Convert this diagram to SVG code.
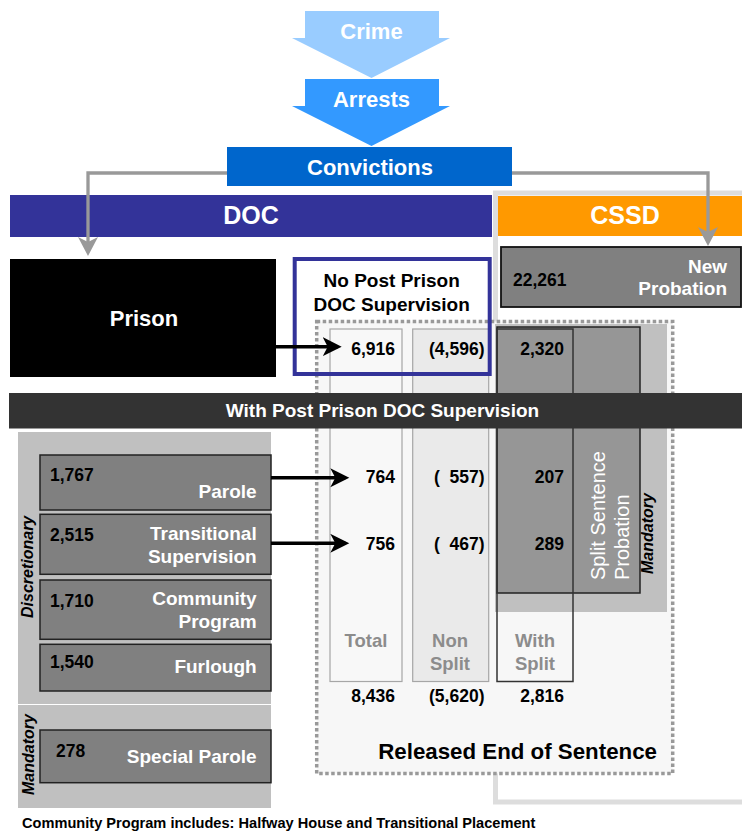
<svg xmlns="http://www.w3.org/2000/svg" width="742" height="831" viewBox="0 0 742 831">
<style>
text{font-family:"Liberation Sans",Arial,Helvetica,sans-serif;font-weight:bold}
.w{fill:#fff}
.k{fill:#000}
.g{fill:#8c8c8c}
.num{font-size:17.5px}
.lbl{font-size:19px}
.hd{font-size:22px}
.big{font-size:25px}
.mid{text-anchor:middle}
.end{text-anchor:end}
.box{fill:#808080;stroke:#222;stroke-width:1.5}
.rot{font-style:italic;font-size:16px;fill:#000}
.conn-g{fill:none;stroke:#999;stroke-width:3.3}
.conn-k{fill:none;stroke:#000;stroke-width:3.5}
</style>
<defs>
<marker id="ah-gray" markerUnits="userSpaceOnUse" markerWidth="20" markerHeight="20" refX="15" refY="10" orient="auto">
<path d="M0,0 L19,10 L0,20 L5,10 Z" fill="#999"/>
</marker>
<marker id="ah-black" markerUnits="userSpaceOnUse" markerWidth="20" markerHeight="20" refX="15" refY="9.5" orient="auto">
<path d="M0,0 L19,9.5 L0,19 L5,9.5 Z" fill="#000"/>
</marker>
</defs>

<!-- CSSD frame -->
<g id="cssd-frame">
<rect x="495.5" y="193" width="300" height="609" fill="none" stroke="#ddd" stroke-width="5"/>
</g>

<g id="cssd">
<rect x="498" y="196" width="244" height="40" fill="#ff9900"/>
<text class="w big mid" x="625" y="224.3">CSSD</text>
</g>
<g id="doc">
<rect x="10" y="195" width="482" height="42" fill="#333399"/>
<text class="w big mid" x="251" y="224.3">DOC</text>
</g>

<g id="crime">
<polygon points="305,11 439,11 439,38 450,38 371.5,78 292,38 305,38" fill="#99ccff"/>
<text class="w hd mid" x="371.5" y="39">Crime</text>
</g>
<g id="arrests">
<polygon points="305,79 439,79 439,106 450,106 371.5,146 292,106 305,106" fill="#3399ff"/>
<text class="w hd mid" x="371.5" y="106.5">Arrests</text>
</g>
<g id="convictions">
<rect x="227" y="147" width="285" height="39" fill="#0066cc"/>
<text class="w hd mid" x="370" y="175">Convictions</text>
</g>

<g id="new-probation">
<rect x="501" y="247" width="240" height="60" fill="#808080" stroke="#111" stroke-width="1.8"/>
<text class="k num" x="513" y="286">22,261</text>
<text class="w lbl end" x="727" y="272.7">New</text>
<text class="w lbl end" x="727" y="295">Probation</text>
</g>

<g id="prison">
<rect x="10" y="259" width="266" height="118" fill="#000"/>
<text class="w mid" style="font-size:22px" x="144" y="326">Prison</text>
</g>

<!-- Released end of sentence -->
<g id="released">
<rect x="316.7" y="321.5" width="356" height="452" fill="#f7f7f7" stroke="#999" stroke-width="3.5" stroke-dasharray="3.5 2.5"/>
<rect x="330" y="329" width="72" height="352.5" fill="#f8f8f8" stroke="#a6a6a6" stroke-width="1.2"/>
<rect x="412.7" y="329" width="76" height="352.5" fill="#eaeaea" stroke="#a6a6a6" stroke-width="1.2"/>
<rect x="495" y="324" width="172" height="288" fill="#c0c0c0"/>
<rect x="497" y="327" width="143" height="266" fill="#969696" stroke="#222" stroke-width="1.5"/>
<rect x="497" y="329" width="76" height="352.5" fill="none" stroke="#333" stroke-width="1.5"/>
<text class="w" style="font-weight:normal;font-size:20px" transform="translate(605.3,580) rotate(-90)">Split Sentence</text>
<text class="w" style="font-weight:normal;font-size:20px" transform="translate(628.6,580) rotate(-90)">Probation</text>
<text class="rot" transform="translate(652.5,574) rotate(-90)">Mandatory</text>
<text class="g mid" style="font-size:18.5px" x="366" y="647.3">Total</text>
<text class="g mid" style="font-size:18.5px" x="450" y="647.3">Non</text>
<text class="g mid" style="font-size:18.5px" x="450" y="669.5">Split</text>
<text class="g mid" style="font-size:18.5px" x="535" y="647.3">With</text>
<text class="g mid" style="font-size:18.5px" x="535" y="670">Split</text>
<text class="k num end" x="395" y="355">6,916</text>
<text class="k num end" x="484.5" y="355">(4,596)</text>
<text class="k num end" x="564" y="355">2,320</text>
<text class="k num end" x="395" y="483.3">764</text>
<text class="k num end" x="484.5" y="483.3">(&#160;&#160;557)</text>
<text class="k num end" x="564" y="483.3">207</text>
<text class="k num end" x="395" y="550">756</text>
<text class="k num end" x="484.5" y="550">(&#160;&#160;467)</text>
<text class="k num end" x="564" y="550">289</text>
<text class="k num end" x="395" y="701.7">8,436</text>
<text class="k num end" x="484.5" y="701.7">(5,620)</text>
<text class="k num end" x="564" y="701.7">2,816</text>
<text class="k end" style="font-size:22.3px" x="657" y="759.3">Released End of Sentence</text>
</g>

<g id="no-post-prison">
<rect x="294.7" y="259" width="195" height="115" fill="none" stroke="#333399" stroke-width="4"/>
<text class="k mid lbl" x="391.7" y="286.7">No Post Prison</text>
<text class="k mid lbl" x="391.7" y="310.7">DOC Supervision</text>
</g>

<g id="with-post-prison">
<rect x="9" y="393" width="733" height="35.5" fill="#333"/>
<text class="w mid lbl" x="382.5" y="417">With Post Prison DOC Supervision</text>
</g>

<g id="left-panel">
<rect x="18" y="432" width="253" height="376" fill="#c0c0c0"/>
<line x1="18" y1="704.5" x2="271" y2="704.5" stroke="#fff" stroke-width="1.2"/>
<text class="rot" transform="translate(33.2,618) rotate(-90)">Discretionary</text>
<text class="rot" transform="translate(34.2,795) rotate(-90)">Mandatory</text>
</g>

<g id="parole">
<rect class="box" x="40" y="455" width="231" height="55"/>
<text class="k num" x="50" y="481">1,767</text>
<text class="w lbl end" x="256.7" y="498.3">Parole</text>
</g>
<g id="transitional">
<rect class="box" x="40" y="514.3" width="231" height="60"/>
<text class="k num" x="50" y="541">2,515</text>
<text class="w lbl end" x="256.7" y="540">Transitional</text>
<text class="w lbl end" x="256.7" y="562.7">Supervision</text>
</g>
<g id="community">
<rect class="box" x="40" y="580" width="231" height="59.3"/>
<text class="k num" x="50" y="606.7">1,710</text>
<text class="w lbl end" x="256.7" y="605">Community</text>
<text class="w lbl end" x="256.7" y="628.3">Program</text>
</g>
<g id="furlough">
<rect class="box" x="40" y="644.3" width="231" height="46.7"/>
<text class="k num" x="50" y="668.3">1,540</text>
<text class="w lbl end" x="256.7" y="673.3">Furlough</text>
</g>
<g id="special-parole">
<rect class="box" x="40" y="730" width="231" height="52.7"/>
<text class="k num" x="56" y="756.7">278</text>
<text class="w lbl end" x="256.7" y="763.3">Special Parole</text>
</g>

<g id="connectors">
<polyline class="conn-g" points="227,173 88,173 88,252" marker-end="url(#ah-gray)"/>
<polyline class="conn-g" points="512,173 708,173 708,242" marker-end="url(#ah-gray)"/>
<line class="conn-k" x1="276" y1="346.7" x2="337.7" y2="346.7" marker-end="url(#ah-black)"/>
<line class="conn-k" x1="271" y1="477.7" x2="345.3" y2="477.7" marker-end="url(#ah-black)"/>
<line class="conn-k" x1="271" y1="543.3" x2="345.3" y2="543.3" marker-end="url(#ah-black)"/>
</g>

<text class="k" style="font-size:14.6px" x="22" y="827.7">Community Program includes: Halfway House and Transitional Placement</text>
</svg>
